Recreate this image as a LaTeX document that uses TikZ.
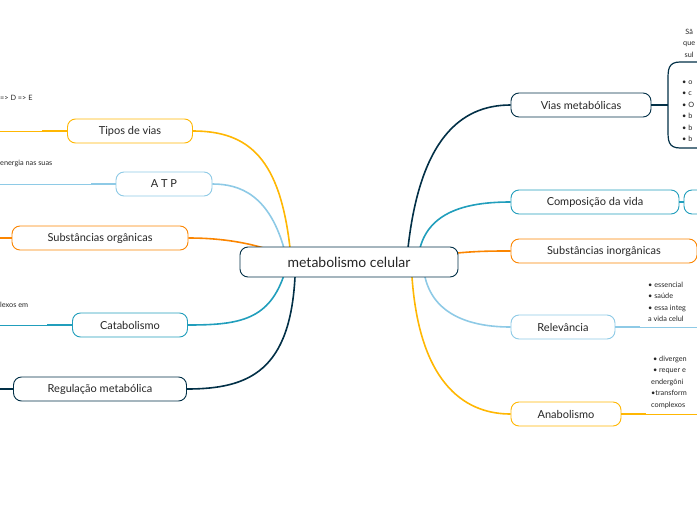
\documentclass[tikz,border=0pt]{standalone}
\usepackage{fontspec}
\setmainfont{Lato}
\definecolor{cyel}{HTML}{FFB703}
\definecolor{cblu}{HTML}{8ECAE6}
\definecolor{corg}{HTML}{FB8500}
\definecolor{cteal}{HTML}{219EBC}
\definecolor{cnavy}{HTML}{023047}
\begin{document}
\begin{tikzpicture}[x=1pt,y=-1pt,
        topic/.style={draw,rounded corners=8pt,line width=0.9pt,minimum height=24pt,font=\fontsize{11}{13}\selectfont,text=black!85,fill=white},
        branch/.style={line width=1.6pt},
        leaf/.style={font=\fontsize{7.3}{11.5}\selectfont,text=black!85,align=left,inner sep=0pt},
        ]
    \useasboundingbox (0,0) rectangle (697,520);
    \clip (0,0) rectangle (697,520);

    % left
    \node (tv) at (130,131) [topic,draw=cyel,minimum width=125pt] {Tipos de vias};
    \node (atp) at (164,184) [topic,draw=cblu,minimum width=96pt] {A T P};
    \node (so) at (100,238) [topic,draw=corg,minimum width=176pt] {Substâncias orgânicas};
    \node (cat) at (130,325) [topic,draw=cteal,minimum width=115pt] {Catabolismo};
    \node (reg) at (100,389) [topic,draw=cnavy,minimum width=173pt] {Regulação metabólica};

    % right
    \node (vm) at (581,105) [topic,draw=cnavy,minimum width=140pt] {Vias metabólicas};
    \node (cv) at (595,202) [topic,draw=cteal,minimum width=168pt] {Composição da vida};
    \node (si) at (604,251) [topic,draw=corg,minimum width=186pt] {Substâncias inorgânicas};
    \node (rel) at (563,327) [topic,draw=cblu,minimum width=104pt] {Relevância};
    \node (ana) at (566,414) [topic,draw=cyel,minimum width=110pt] {Anabolismo};
    \node (cvx) at (720,202) [topic,draw=cteal,minimum width=72pt] {};

    % branches
    \draw[branch,cyel] (290,248) .. controls (280,160) and (250,131) .. (tv.east);
    \draw[branch,cblu] (285,252) .. controls (270,195) and (240,184) .. (atp.east);
    \draw[branch,corg] (270,250) .. controls (240,240) and (210,238) .. (so.east);
    \draw[branch,cteal] (285,272) .. controls (270,320) and (240,325) .. (cat.east);
    \draw[branch,cnavy] (295,277) .. controls (290,370) and (250,389) .. (reg.east);
    \draw[branch,cnavy] (408,248) .. controls (420,140) and (460,105) .. (vm.west);
    \draw[branch,cteal] (420,248) .. controls (430,210) and (470,202) .. (cv.west);
    \draw[branch,corg] (440,255) .. controls (470,251) and (490,251) .. (si.west);
    \draw[branch,cblu] (425,277) .. controls (435,320) and (480,327) .. (rel.west);
    \draw[branch,cyel] (412,277) .. controls (420,390) and (470,414) .. (ana.west);
    \node (mc) at (349,262) [topic,draw=cnavy,minimum width=218pt,minimum height=30pt,font=\fontsize{14}{16}\selectfont] {metabolismo celular};

    % leaves
    \coordinate (tvl) at (0,131);
    \coordinate (atpl) at (0,184);
    \coordinate (sol) at (0,238);
    \coordinate (catl) at (0,325);
    \coordinate (regl) at (0,389);
    \draw[cyel,line width=0.8pt] (tv.west) -- (tvl);
    \draw[cyel,line width=1.6pt] (tv.west) -- ++(-25,0);
    \draw[cblu,line width=0.8pt] (atp.west) -- (atpl);
    \draw[cblu,line width=1.6pt] (atp.west) -- ++(-25,0);
    \draw[corg,line width=1.6pt] (so.west) -- (sol);
    \draw[cteal,line width=0.8pt] (cat.west) -- (catl);
    \draw[cteal,line width=1.6pt] (cat.west) -- ++(-25,0);
    \draw[cnavy,line width=1.6pt] (reg.west) -- (regl);
    \node (tvt) at (0,98) [leaf,anchor=west] {=> D => E};
    \node (atpt) at (0,163) [leaf,anchor=west] {energia nas suas};
    \node (catt) at (0,305) [leaf,anchor=west] {lexos em};

    \coordinate (rell) at (697,327);
    \coordinate (anal) at (697,414);
    \draw[cblu,line width=0.8pt] (rel.east) -- (rell);
    \draw[cblu,line width=1.6pt] (rel.east) -- ++(25,0);
    \draw[cyel,line width=0.8pt] (ana.east) -- (anal);
    \draw[cyel,line width=1.6pt] (ana.east) -- ++(25,0);
    \draw[cteal,line width=1.6pt] (cv.east) -- (cvx.west);
    \draw[cnavy,line width=1.6pt] (vm.east) -- (668,105);
    \draw[cnavy,line width=1.2pt] (705,62) -- (680,62) .. controls (668,62) and (668,70) .. (668,80) -- (668,130)
        .. controls (668,140) and (668,148) .. (680,148) -- (705,148);

    \node (vmt) at (683,43) [leaf,anchor=west,align=center] {Sã\\que\\ sul};
    \node (vmb) at (682,111) [leaf,anchor=west] {• o\\• c\\• O\\• b\\• b\\• b};
    \node (relt) at (648,302) [leaf,anchor=west] {• essencial\\• saúde\\• essa integ\\a vida celul};
    \node (anat) at (651,382) [leaf,anchor=west] {\ • divergen\\\ • requer e\\endergôni\\•transform\\complexos};
\end{tikzpicture}
\end{document}
